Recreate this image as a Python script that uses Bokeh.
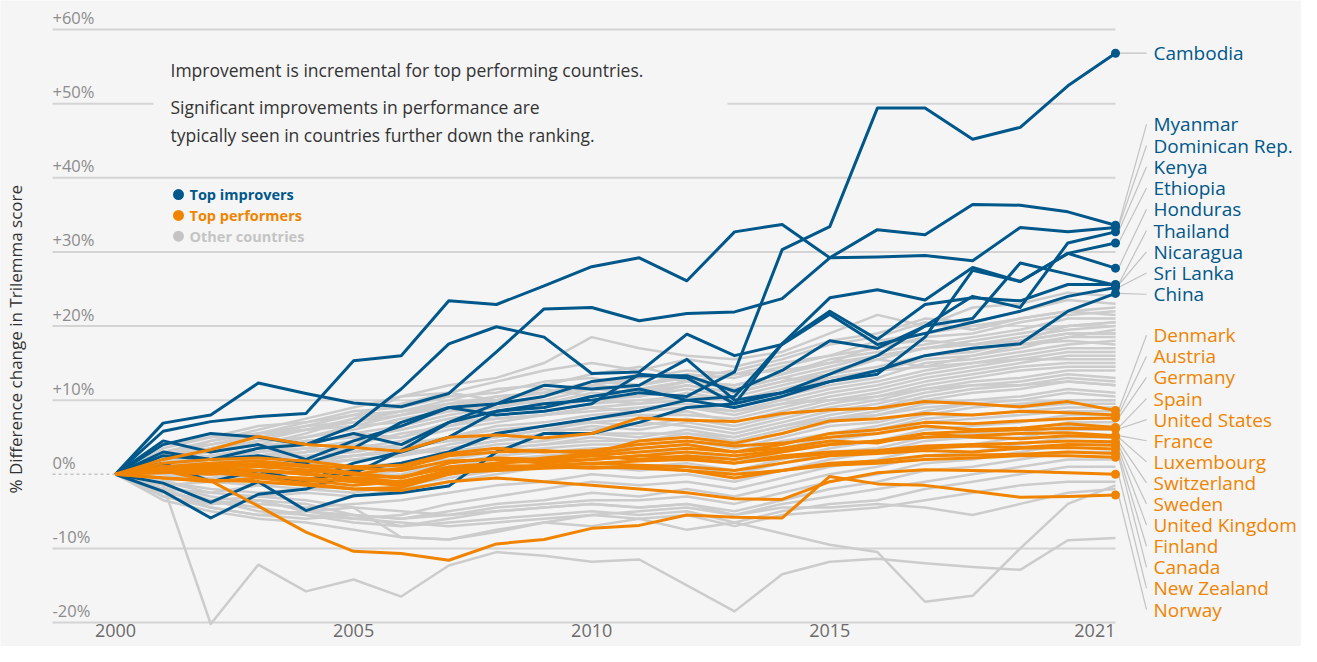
import math
from bokeh.plotting import figure
from bokeh.models import ColumnDataSource, Range1d
from bokeh.core.properties import value
from bokeh.embed import file_html
from bokeh.resources import INLINE

years = list(range(2000, 2022))

improver_names = ["Cambodia", "Myanmar", "Dominican Rep.", "Kenya", "Ethiopia", "Honduras",
                  "Thailand", "Nicaragua", "Sri Lanka", "China"]
improver_values = [
    [0, 1.5, -1.0, 0.5, -1.0, 1.5, 3.0, 5.0, 8.5, 9.5, 10.0, 11.0, 10.5, 13.8, 30.3, 33.4, 49.4, 49.4, 45.2, 46.8, 52.4, 56.8],
    [0, 6.9, 8.0, 12.3, 10.9, 9.6, 9.1, 10.9, 16.5, 22.3, 22.5, 20.7, 21.7, 21.9, 23.7, 29.2, 33.0, 32.3, 36.4, 36.3, 35.4, 33.6],
    [0, 5.8, 7.1, 7.8, 8.2, 15.3, 16.0, 23.4, 22.9, 25.4, 28.0, 29.2, 26.1, 32.7, 33.7, 29.2, 29.3, 29.5, 28.8, 33.3, 32.7, 33.3],
    [0, 4.5, 3.0, 4.0, 2.0, 4.5, 6.5, 9.0, 9.5, 10.5, 12.5, 13.3, 13.3, 11.2, 14.0, 18.0, 17.0, 20.0, 24.0, 22.5, 31.2, 32.7],
    [0, -2.3, -5.9, -2.7, -2.0, 0.1, 3.2, 7.0, 9.5, 12.0, 11.5, 12.0, 15.5, 10.0, 11.0, 12.5, 13.5, 18.5, 27.5, 26.0, 29.8, 31.2],
    [0, 3.0, 2.0, 2.5, 1.5, 3.5, 7.0, 9.0, 8.0, 8.5, 9.5, 13.5, 13.0, 9.5, 17.6, 23.8, 24.9, 23.5, 27.9, 26.0, 29.8, 27.8],
    [0, 4.0, 5.5, 5.0, 4.0, 5.5, 4.0, 7.0, 8.5, 9.0, 10.5, 11.5, 10.0, 10.5, 17.6, 22.0, 18.2, 22.9, 23.8, 23.4, 25.6, 25.6],
    [0, -1.2, -3.8, -1.0, -4.9, -2.9, -2.5, -1.6, 3.0, 5.5, 5.5, 7.0, 9.0, 9.5, 11.0, 13.5, 16.0, 20.0, 21.0, 28.5, 27.0, 25.5],
    [0, 2.5, 2.0, 3.5, 4.0, 6.5, 11.5, 17.6, 19.9, 18.5, 13.6, 13.8, 18.9, 16.0, 17.5, 21.6, 17.5, 19.0, 20.5, 22.0, 24.0, 25.2],
    [0, 1.0, 0.5, 0.0, -1.0, 0.5, 1.5, 3.0, 5.5, 6.5, 7.5, 8.5, 10.0, 9.0, 10.5, 12.5, 14.0, 16.0, 17.0, 17.6, 22.0, 24.4],
]

performer_names = ["Denmark", "Austria", "Germany", "Spain", "United States", "France", "Luxembourg",
                   "Switzerland", "Sweden", "United Kingdom", "Finland", "Canada", "New Zealand", "Norway"]
performer_values = [
    [0, 2.0, 3.3, 5.1, 4.0, 3.6, 3.1, 5.0, 5.3, 4.9, 5.5, 7.6, 7.3, 7.1, 8.2, 8.7, 8.9, 9.8, 9.5, 9.1, 9.8, 8.6],
    [0, 1.0, 1.5, 1.2, 0.5, 0.0, 0.8, 2.5, 3.0, 3.2, 2.8, 4.5, 5.0, 4.2, 5.5, 7.2, 7.5, 8.2, 8.0, 8.5, 8.3, 8.0],
    [0, 0.5, 0.8, 1.5, 1.0, 0.2, -0.5, 1.5, 2.2, 2.0, 2.5, 3.0, 3.5, 3.0, 4.0, 5.5, 6.0, 7.0, 6.8, 7.2, 7.5, 7.6],
    [0, 1.5, 2.0, 2.2, 1.8, 1.0, 1.2, 2.8, 3.5, 3.0, 3.2, 4.0, 4.5, 3.8, 4.2, 5.0, 5.5, 6.5, 6.0, 6.2, 6.8, 6.3],
    [0, 0.2, 0.5, 0.0, -0.8, -1.5, -1.0, 0.5, 1.5, 2.0, 2.5, 2.0, 2.5, 2.0, 3.0, 4.0, 4.5, 5.5, 5.8, 6.0, 6.2, 6.1],
    [0, 1.0, 1.2, 1.0, 0.6, 0.0, -0.5, 1.0, 1.5, 1.8, 2.0, 2.5, 3.0, 2.5, 3.2, 4.0, 4.5, 5.0, 5.2, 5.5, 5.6, 5.2],
    [0, -0.5, -1.0, -0.5, -1.2, -2.0, -1.8, 0.0, 1.5, 2.2, 2.8, 3.5, 4.0, 3.0, 3.5, 4.5, 4.2, 5.5, 5.0, 4.8, 5.2, 5.0],
    [0, 0.8, 1.5, 1.8, 1.2, 0.8, 0.5, 1.8, 2.0, 1.5, 2.0, 2.5, 2.2, 1.5, 2.5, 3.0, 3.2, 3.8, 4.0, 4.2, 4.5, 4.4],
    [0, 0.5, 0.2, -0.3, -0.5, -1.0, -1.5, 0.2, 1.0, 1.2, 1.5, 1.8, 2.0, 1.5, 2.2, 2.8, 3.0, 3.5, 3.8, 3.6, 4.0, 3.9],
    [0, 0.8, 1.0, 0.5, 0.2, -0.8, -1.2, 0.0, 0.8, 1.0, 1.5, 1.2, 1.0, 0.5, 1.5, 2.5, 2.8, 3.2, 3.0, 3.5, 3.6, 3.4],
    [0, 0.3, 0.0, 0.5, 0.0, -0.5, -1.0, 0.2, 0.5, 0.8, 1.0, 0.8, 0.5, -0.5, 0.5, 1.5, 1.8, 2.5, 2.6, 2.7, 3.0, 2.8],
    [0, 0.5, 0.8, 0.5, 0.0, -0.5, -0.3, 0.8, 1.2, 1.0, 0.8, 1.0, 0.5, 0.0, 0.5, 1.2, 1.5, 2.0, 2.2, 2.5, 2.5, 2.3],
    [0, -0.5, -0.8, -1.0, -1.5, -2.0, -2.2, -1.0, -0.5, -1.0, -1.5, -2.0, -2.5, -3.3, -3.4, -1.0, 0.2, 0.6, 0.5, 0.4, 0.2, 0.0],
    [0, 0.5, -0.9, -4.3, -7.8, -10.4, -10.7, -11.6, -9.4, -8.8, -7.3, -6.9, -5.5, -5.8, -5.9, -0.3, -1.3, -1.5, -2.3, -3.1, -3.0, -2.8],
]

other_values = [
    [0, -1.5, -20.2, -12.2, -15.8, -14.2, -16.5, -12.3, -10.5, -11.0, -11.8, -11.5, -15.0, -18.5, -13.5, -11.8, -11.4, -12.0, -12.5, -12.9, -8.9, -8.6],
    [0, -2, -4, -3.5, -5, -4.5, -8.5, -8.8, -7.5, -6.5, -7, -6, -7.5, -6.5, -8, -9.5, -10.5, -17.2, -16.4, -10, -4, -1.5],
    [0, 3, 4.5, 6, 7.5, 9, 10.5, 12, 13, 15, 18.5, 17, 16, 15.5, 16.5, 19, 21.5, 20, 22.5, 23, 24.5, 24],
    [0, 2.5, 4, 5, 6.5, 8, 9.5, 11, 12.5, 14, 15, 14, 15.5, 14.5, 16, 18, 19, 21, 20.5, 22, 23.5, 23],
    [0, 1.5, 3.5, 4, 5.5, 7.5, 8.5, 10, 11.5, 12, 13.5, 14.5, 13, 14, 15.5, 17.5, 18.5, 20.5, 19.5, 21, 22, 22.5],
    [0, 2, 3, 4.5, 6, 6.5, 8, 9, 10.5, 11, 12.5, 12, 13.5, 13, 14.5, 16, 17, 18.5, 19, 20.5, 21.5, 22],
    [0, 1, 2.5, 3.5, 5, 6, 7.5, 8.5, 9.5, 10.5, 12, 11.5, 12.5, 12, 13.5, 15.5, 16.5, 17.5, 18.5, 19.5, 21, 21],
    [0, 3.5, 5, 6.5, 7, 8.5, 9, 10.5, 11, 12.5, 13, 12, 13, 11.5, 13, 14.5, 16, 17, 18, 19, 20, 20.5],
    [0, 0.5, 2, 3, 4, 5.5, 6.5, 8, 9, 10, 11.5, 11, 12, 11, 12.5, 14, 15.5, 17, 17.5, 18.5, 19.5, 20],
    [0, 2, 2.5, 3.5, 4.5, 5, 6, 7.5, 8.5, 9.5, 10, 10.5, 11.5, 10.5, 12, 13.5, 14.5, 16, 16.5, 18, 19, 19],
    [0, 1.5, 1, 2.5, 3.5, 4.5, 5, 6.5, 8, 8.5, 9.5, 10, 10.5, 10, 11, 13, 14, 15.5, 16, 17, 18.5, 18.5],
    [0, -0.5, 1, 2, 3, 3.5, 4.5, 6, 7, 8, 9, 9.5, 10, 9, 10.5, 12, 13, 15, 15.5, 16.5, 17.5, 18],
    [0, 2.5, 3, 4, 4, 5.5, 5, 7, 7.5, 8, 8.5, 9, 9.5, 8.5, 10, 11.5, 12.5, 14, 15, 16, 17, 17],
    [0, 1, 1.5, 2, 2.5, 3, 4, 5, 6.5, 7, 8, 8.5, 9, 8, 9.5, 11, 12, 13.5, 14.5, 15.5, 16.5, 16.5],
    [0, 0, 0.5, 1.5, 2, 2.5, 3.5, 4.5, 5.5, 6.5, 7.5, 8, 8, 7.5, 9, 10.5, 11.5, 13, 14, 15, 16, 16],
    [0, 1.5, 2.5, 2, 3, 4, 3.5, 5, 6, 6.5, 7, 7.5, 8.5, 7, 8.5, 10, 11, 12.5, 13.5, 14.5, 15, 15],
    [0, -1, 0, 0.5, 1.5, 2, 2.5, 4, 5, 6, 7, 6.5, 7.5, 6.5, 8, 9.5, 10.5, 12, 13, 14, 14.5, 14.5],
    [0, 0.5, 1, 1, 1.5, 2.5, 3, 3.5, 4.5, 5.5, 6.5, 6, 7, 6, 7.5, 9, 10, 11.5, 12.5, 13, 14, 14],
    [0, 2, 2, 3, 3.5, 3, 4, 4.5, 5, 6, 6, 7, 6.5, 5.5, 7, 8.5, 9.5, 11, 12, 12.5, 13.5, 13],
    [0, -1.5, -1, 0, 0.5, 1, 1.5, 3, 4, 4.5, 5.5, 5, 6, 5, 6.5, 8, 9, 10.5, 11.5, 12, 13, 12.5],
    [0, 1, 0.5, 1.5, 1, 2, 2.5, 3.5, 4.5, 5, 5.5, 5.5, 5.5, 4.5, 6, 7.5, 8.5, 10, 11, 11.5, 12.5, 12],
    [0, -0.5, -0.5, 0.5, 0, 1, 1, 2.5, 3.5, 4, 4.5, 4.5, 5, 4, 5.5, 7, 8, 9.5, 10, 10.5, 11.5, 11],
    [0, 0.5, 0, -0.5, 0.5, 0.5, 1.5, 2, 3, 3.5, 4, 4, 4.5, 3.5, 5, 6.5, 7, 8.5, 9.5, 10, 11, 10.5],
    [0, -2, -2.5, -1.5, -1, -0.5, 0, 1.5, 2.5, 3, 3.5, 3.5, 4, 3, 4.5, 5.5, 6.5, 8, 9, 9.5, 10, 10],
    [0, 1.5, 1, 0.5, 0, -0.5, 0.5, 1, 2, 2.5, 3, 3, 3, 2, 3.5, 5, 6, 7.5, 8, 8.5, 9, 9],
    [0, -1, -2, -2.5, -2, -1.5, -1, 0.5, 1.5, 2, 2.5, 2, 2.5, 1.5, 3, 4.5, 5.5, 7, 7.5, 8, 8.5, 8.5],
    [0, -2.5, -3.5, -3, -2.5, -3, -2, -1, 0, 1, 1.5, 1, 1.5, 0.5, 2, 3.5, 4.5, 6, 6.5, 7, 8, 8],
    [0, 0, -1, -1.5, -2, -2.5, -1.5, -0.5, 0.5, 1, 1, 0.5, 1, 0, 1.5, 3, 3.5, 5, 5.5, 6, 7, 7],
    [0, -1.5, -3, -4, -4.5, -4, -3.5, -2.5, -1.5, -1, 0, -0.5, 0, -1, 0.5, 2, 3, 4.5, 5, 5.5, 6.5, 6.5],
    [0, -3, -4.5, -5.5, -5, -6, -5.5, -4, -3, -2, -1, -1.5, -1, -2, -0.5, 1, 2, 3.5, 4, 5, 6, 6],
    [0, -2, -4, -3.5, -4, -5.5, -6, -5, -4, -3.5, -2.5, -3, -2, -3, -1.5, 0, 1, 2.5, 3, 4, 5, 5],
    [0, -1, -2.5, -3, -3.5, -4.5, -5, -5.5, -4.5, -4, -3.5, -3.5, -3, -4, -2.5, -1, 0, 1.5, 2, 3, 4, 4],
    [0, -2.5, -3.5, -5, -5.5, -6.5, -7, -6, -5, -4.5, -4, -4.5, -4, -5, -3.5, -2, -1, 0.5, 1, 2, 3, 3],
    [0, -3.5, -5, -6, -6.5, -7.5, -8.5, -8.8, -7.8, -6.5, -5.5, -5, -4.5, -5.5, -4, -3, -2, -1, 0, 1, 2, 2],
    [0, -2, -4.5, -5.5, -6, -5.5, -7, -6.5, -6, -5.5, -5, -5.5, -5, -6.5, -5, -4, -3.5, -2, -1, 0, 1, 1],
    [0, -1.5, -3.5, -4.5, -5.5, -6, -6.5, -7, -6.5, -6, -5.5, -6, -5.5, -7, -5.5, -5, -4.5, -3.5, -2.5, -1.5, -1, -1],
    [0, -3, -4, -3.5, -5, -5.5, -6, -5.5, -5, -4.5, -4, -4.5, -4, -5.5, -4.5, -4.5, -4, -4.5, -5.5, -4, -2.5, -2],
    [0, 2, 4.5, 5.5, 6, 7.5, 10.5, 11, 10, 9.5, 11, 10.5, 12, 11, 12.5, 13.5, 15.5, 14.5, 16, 17.5, 18, 17.5],
    [0, 3, 4, 5.5, 6.5, 7, 8, 9.5, 10, 11.5, 10.5, 11.5, 12.5, 11.5, 13, 12.5, 14, 16, 17, 17.5, 18.5, 19.5],
    [0, 1, 3.5, 4.5, 5, 6.5, 7, 8.5, 9, 10.5, 12, 13, 14, 13.5, 15, 16, 18, 19, 20, 21, 22, 21.5],
    [0, 4, 5, 5.5, 7, 8, 8.5, 9.5, 10.5, 11, 12, 13.5, 12.5, 13.5, 14, 15, 17.5, 18, 17.5, 18, 19, 19],
    [0, 0.5, 1.5, 2.5, 3, 4, 5.5, 6.5, 7.5, 8, 9, 8.5, 9, 8.5, 9.5, 10, 10.5, 11.5, 12, 12, 12.5, 12],
    [0, -0.5, 0.5, 1.5, 2, 2.5, 3, 3, 3.5, 4, 5, 4.5, 5.5, 5, 6.5, 7.5, 8, 9, 9.5, 9, 9.5, 9.5],
    [0, 1, 2, 3.5, 4.5, 5, 6, 7.5, 8.5, 9, 10, 9.5, 11, 10, 11.5, 13, 14, 14.5, 15, 15.5, 15.5, 15.5],
    [0, 2.5, 3.5, 5, 6, 7, 8.5, 9, 10, 11, 11.5, 11, 12.5, 12, 13.5, 15, 16, 17, 17.5, 18, 20, 20.5],
]

y_ticks = [-20, -10, 0, 10, 20, 30, 40, 50, 60]
y_tick_labels = ["-20%", "-10%", "0%", "+10%", "+20%", "+30%", "+40%", "+50%", "+60%"]
x_ticks = [2000, 2005, 2010, 2015, 2021]
x_tick_labels = ["2000", "2005", "2010", "2015", "2021"]

note_lines = ["Improvement is incremental for top performing countries.",
              "Significant improvements in performance are",
              "typically seen in countries further down the ranking."]
legend_labels = ["Top improvers", "Top performers", "Other countries"]
y_title = "% Difference change in Trilemma score"

# ---- styling / layout ----
BG = "#f5f5f5"
BLUE = "#00578a"
ORANGE = "#f08400"
GRAY = "#cccccc"
GRID = "#d4d4d4"
FONT = "Open Sans"
W, H = 1301, 646
PXY = 1000.0 / 21.0              # px per year
Y60, YM20 = 29.0, 622.0          # canvas y of +60% and -20%
PXV = (YM20 - Y60) / 80.0        # px per percentage point
X0 = 115.0                       # canvas x of year 2000
Y0 = Y60 + 60 * PXV              # canvas y of 0%
KY = (YM20 - Y60) / (631.0 - 32.3)


def dx(px):   # canvas px -> data x
    return 2000 + (px - X0) / PXY


def ry(py):   # reference picture y -> canvas y
    return Y60 + (py - 32.3) * KY


def dy(py):   # canvas px -> data y
    return (Y0 - py) / PXV


p = figure(width=W, height=H, output_backend="svg", toolbar_location=None,
           x_range=Range1d(dx(0), dx(W)), y_range=Range1d(dy(H), dy(0)),
           x_axis_location=None, y_axis_location=None,
           min_border=0, min_border_left=0, min_border_right=0,
           min_border_top=0, min_border_bottom=0)
p.background_fill_color = BG
p.border_fill_color = BG
p.outline_line_color = None
p.grid.visible = False

# gridlines
grid_x0 = dx(52)
solid = [t for t in y_ticks if t != 0]
p.segment(x0=[grid_x0] * len(solid), x1=[years[-1]] * len(solid), y0=solid, y1=solid,
          line_color=GRID, line_width=2)
p.segment(x0=[grid_x0], x1=[years[0]], y0=[0], y1=[0], line_color="#c4c4c4",
          line_width=1.5, line_dash="3 3")

# note background box interrupting gridline
p.quad(left=dx(153), right=dx(727), top=dy(ry(50)), bottom=dy(ry(160)),
       fill_color=BG, line_color=None)

# y tick labels
p.text(x=[grid_x0] * len(y_ticks), y=y_ticks, text=y_tick_labels, text_font=value(FONT),
       text_font_size="16.5px", text_color="#8c8c8c", text_align="left",
       text_baseline="middle", y_offset=-12)

# x tick labels
aligns = ["center"] * (len(x_ticks) - 1) + ["right"]
xsrc = ColumnDataSource(dict(x=x_ticks, y=[dy(630)] * len(x_ticks), t=x_tick_labels, a=aligns))
p.text(x="x", y="y", text="t", source=xsrc, text_font=value(FONT), text_font_size="18px",
       text_color="#6a6a6a", text_align="a", text_baseline="middle")

# y title
p.text(x=[dx(15)], y=[dy(ry(345))], text=[y_title], angle=math.pi / 2,
       text_font=value(FONT), text_font_size="17px", text_color="#333333",
       text_align="center", text_baseline="middle")

# lines
xs_o = [years[:len(v)] for v in other_values]
p.multi_line(xs=xs_o, ys=other_values, line_color=GRAY, line_width=2.5, line_join="round")
xs_b = [years[:len(v)] for v in improver_values]
p.multi_line(xs=xs_b, ys=improver_values, line_color=BLUE, line_width=3, line_join="round")
xs_p = [years[:len(v)] for v in performer_values]
p.multi_line(xs=xs_p, ys=performer_values, line_color=ORANGE, line_width=3, line_join="round")

# labels at the right
lab_x = dx(1153)
con_x1 = dx(1146)
con_x0 = years[-1] + 3 / PXY
blue_top, step_b = dy(ry(128)), 21.45 * KY / PXV
orange_top, step_o = dy(ry(341)), 21.3 * KY / PXV

ends_b = [v[-1] for v in improver_values]
ends_p = [v[-1] for v in performer_values]
lab_y_b = [ends_b[0]] + [blue_top - i * step_b for i in range(len(improver_names) - 1)]
lab_y_p = [orange_top - i * step_o for i in range(len(performer_names))]

p.segment(x0=[con_x0] * len(ends_b), y0=ends_b, x1=[con_x1] * len(ends_b), y1=lab_y_b,
          line_color="#c2c2c2", line_width=1.2)
p.segment(x0=[con_x0] * len(ends_p), y0=ends_p, x1=[con_x1] * len(ends_p), y1=lab_y_p,
          line_color="#c2c2c2", line_width=1.2)

p.scatter(x=[years[-1]] * len(ends_b), y=ends_b, size=9, fill_color=BLUE, line_color=None)
p.scatter(x=[years[-1]] * len(ends_p), y=ends_p, size=9, fill_color=ORANGE, line_color=None)

p.text(x=[lab_x] * len(improver_names), y=lab_y_b, text=improver_names, text_font=value(FONT),
       text_font_size="19px", text_color=BLUE, text_align="left", text_baseline="middle")
p.text(x=[lab_x] * len(performer_names), y=lab_y_p, text=performer_names, text_font=value(FONT),
       text_font_size="19px", text_color=ORANGE, text_align="left", text_baseline="middle")

# note text
note_y = [dy(ry(73)), dy(ry(111)), dy(ry(139))]
p.text(x=[dx(170)] * 3, y=note_y, text=note_lines, text_font=value(FONT),
       text_font_size="17.5px", text_color="#333333",
       text_align="left", text_baseline="middle")

# legend
leg_y = [dy(ry(199)), dy(ry(220)), dy(ry(241))]
leg_colors = [BLUE, ORANGE, "#c4c4c4"]
p.scatter(x=[dx(178)] * 3, y=leg_y, size=11, fill_color=leg_colors, line_color=None)
p.text(x=[dx(189)] * 3, y=leg_y, text=legend_labels, text_color=leg_colors,
       text_font=value(FONT), text_font_size="14.5px", text_font_style="bold",
       text_align="left", text_baseline="middle")

open("out.html", "w").write(file_html(p, INLINE))
